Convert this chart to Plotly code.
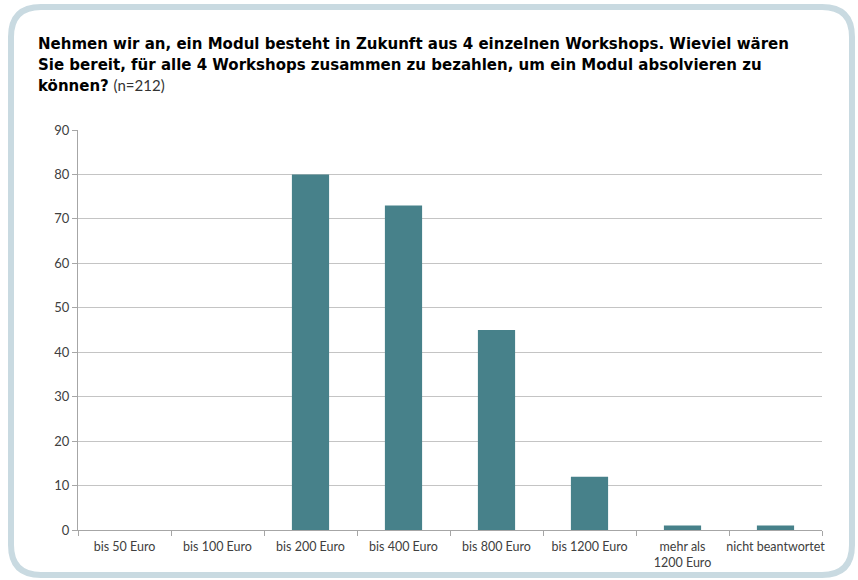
import plotly.graph_objects as go

categories = ["bis 50 Euro", "bis 100 Euro", "bis 200 Euro", "bis 400 Euro",
              "bis 800 Euro", "bis 1200 Euro", "mehr als<br>1200 Euro", "nicht beantwortet"]
values = [0, 0, 80, 73, 45, 12, 1, 1]
y_ticks = [0, 10, 20, 30, 40, 50, 60, 70, 80, 90]
title_lines = [
    "<b>Nehmen wir an, ein Modul besteht in Zukunft aus 4 einzelnen Workshops. Wieviel wären</b>",
    "<b>Sie bereit, für alle 4 Workshops zusammen zu bezahlen, um ein Modul absolvieren zu</b>",
    "<b>können?</b> <span style='color:#333333;font-weight:normal;font-family:Lato'>(n=212)</span>",
]

W, H = 858, 580
L, R, T, B = 78, 36, 130, 50
PW, PH = W - L - R, H - T - B

def px(x):
    return (x - L) / PW

def py(y):
    return (H - B - y) / PH

fig = go.Figure()
fig.add_trace(go.Bar(
    x=categories, y=values,
    marker=dict(color="#47818a", line=dict(width=0)),
    width=0.4,
))

# rounded frame
x0, x1, y0, y1, r = px(11), px(852), py(575), py(7), 30
rx, ry = r / PW, r / PH
path = (f"M {x0+rx},{y1} L {x1-rx},{y1} Q {x1},{y1} {x1},{y1-ry} "
        f"L {x1},{y0+ry} Q {x1},{y0} {x1-rx},{y0} L {x0+rx},{y0} "
        f"Q {x0},{y0} {x0},{y0+ry} L {x0},{y1-ry} Q {x0},{y1} {x0+rx},{y1} Z")
fig.add_shape(type="path", path=path, xref="paper", yref="paper",
              line=dict(color="#c9dae1", width=6), layer="below")

for i, line in enumerate(title_lines):
    fig.add_annotation(text=line, xref="paper", yref="paper", x=px(36), y=py(44.5 + 20.7 * i),
                       xanchor="left", yanchor="middle", align="left", showarrow=False,
                       font=dict(family="DejaVu Sans", size=15, color="#000000"))

fig.update_layout(
    width=W, height=H,
    margin=dict(l=L, r=R, t=T, b=B, autoexpand=False),
    paper_bgcolor="white", plot_bgcolor="white",
    showlegend=False,
    font=dict(family="Lato", size=12, color="#404040"),
    bargap=0.6,
)
fig.update_xaxes(
    showline=True, linecolor="#a6a6a6", linewidth=1, tickangle=0, automargin=False,
    ticks="outside", tickson="boundaries", ticklen=5, tickcolor="#a6a6a6",
    ticklabelstandoff=5,
    showgrid=False, tickfont=dict(size=12.5, color="#404040"),
)
fig.update_yaxes(
    range=[0, 90], tickvals=y_ticks, showline=True, linecolor="#a6a6a6", linewidth=1,
    ticks="outside", ticklen=5, tickcolor="#a6a6a6", automargin=False,
    showgrid=True, gridcolor="#c4c4c4", gridwidth=1, zeroline=False,
    tickfont=dict(size=13, color="#404040"),
)

fig.write_html("out.html")
